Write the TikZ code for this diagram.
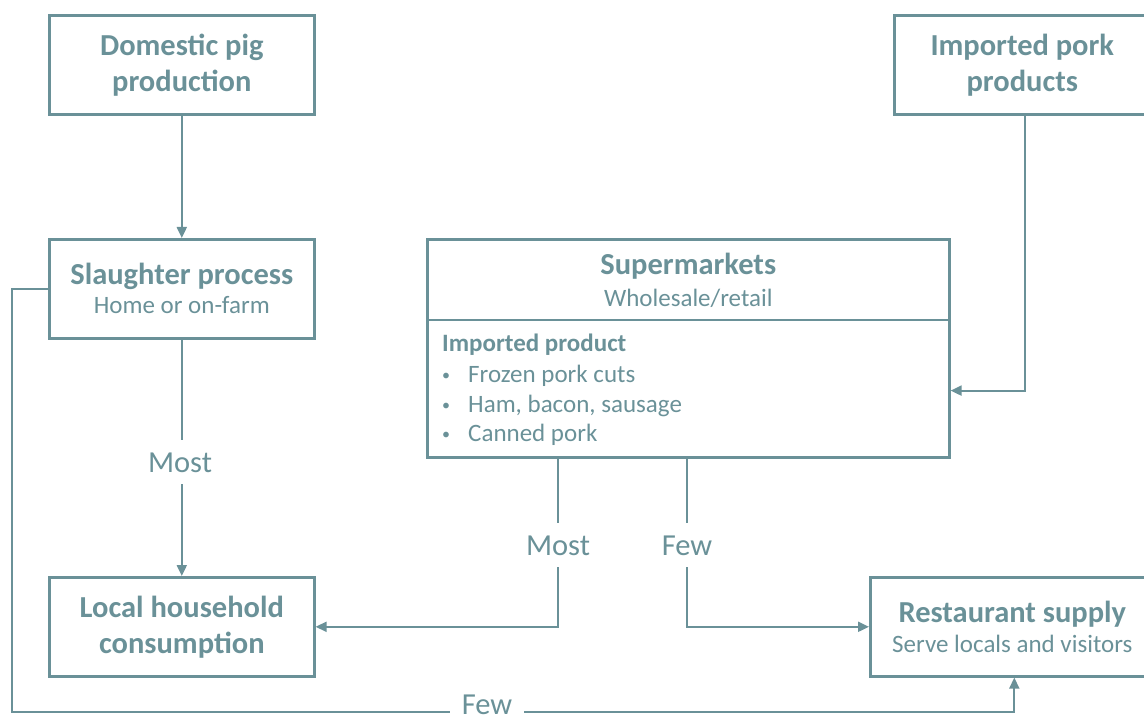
\documentclass[tikz,border=0pt]{standalone}
\usepackage{fontspec}
\setmainfont{Carlito}
\usetikzlibrary{arrows.meta,calc}
\definecolor{teal}{RGB}{106,145,152}
\begin{document}
\begin{tikzpicture}[x=1pt,y=-1pt,
  box/.style={draw=teal,line width=2.6pt,minimum width=#1,inner sep=0pt,anchor=north west},
  conn/.style={draw=teal,line width=2pt,-{Triangle[length=11pt,width=10pt]}},
  plain/.style={draw=teal,line width=2pt},
  ttl/.style={text=teal,font=\fontsize{30.5}{36}\selectfont\bfseries,anchor=base,inner sep=0pt},
  sub/.style={text=teal,font=\fontsize{25}{30}\selectfont,anchor=base,inner sep=0pt},
  itm/.style={text=teal,font=\fontsize{25}{30}\selectfont,anchor=base west,inner sep=0pt},
  dot/.style={text=teal,font=\fontsize{16}{20}\selectfont,anchor=base west,inner sep=0pt},
  lbl/.style={text=teal,font=\fontsize{30.5}{36}\selectfont,anchor=base,fill=white,inner xsep=5pt,inner ysep=12pt}]
\useasboundingbox (0,0) rectangle (1144,722);
\clip (0,0) rectangle (1144,722);
% boxes
\node[box=265pt,minimum height=99pt] (dom) at (48,14) {};
\node[box=262pt,minimum height=99pt] (imp) at (893,14) {};
\node[box=265pt,minimum height=99pt] (sl) at (48,238) {};
\node[box=522pt,minimum height=218pt] (sup) at (426,238) {};
\node[box=265pt,minimum height=99pt] (loc) at (48,576) {};
\node[box=288pt,minimum height=99pt] (res) at (869,576) {};
\draw[plain,line width=2.6pt] ($(sup.north west)+(0,82)$) coordinate (dl) -- (dl -| sup.east);
% texts
\node[ttl] (t1) at ($(dom.north)+(0,42)$) {Domestic pig};
\node[ttl] (t2) at ($(dom.north)+(0,78)$) {production};
\node[ttl] (t3) at ($(imp.north)+(-3,42)$) {Imported pork};
\node[ttl] (t4) at ($(imp.north)+(-3,78)$) {products};
\node[ttl] (t5) at ($(sl.north)+(0,47)$) {Slaughter process};
\node[sub] (t6) at ($(sl.north)+(0,75)$) {Home or on-farm};
\node[ttl] (t7) at ($(sup.north)+(0,37)$) {Supermarkets};
\node[sub] (t8) at ($(sup.north)+(0,68)$) {Wholesale/retail};
\node[itm,font=\fontsize{25}{30}\selectfont\bfseries] (t9) at (442,352) {Imported product};
\node[dot] (b1) at (442,380) {•};
\node[itm] (i1) at (468,382) {Frozen pork cuts};
\node[dot] (b2) at (442,410) {•};
\node[itm] (i2) at (468,412) {Ham, bacon, sausage};
\node[dot] (b3) at (442,439) {•};
\node[itm] (i3) at (468,441) {Canned pork};
\node[ttl] (t10) at ($(loc.north)+(0,41)$) {Local household};
\node[ttl] (t11) at ($(loc.north)+(0,77)$) {consumption};
\node[ttl] (t12) at ($(res.north)+(-2,46)$) {Restaurant supply};
\node[sub] (t13) at ($(res.north)+(-2,76)$) {Serve locals and visitors};
% connectors
\draw[conn] (dom.south) -- (sl.north);
\draw[conn] (sl.south) -- (loc.north);
\node[lbl] (m1) at (180,472) {Most};
\draw[conn] (imp.south) |- ($(sup.south east)+(0,-68)$);
\draw[conn] ($(sup.south west)+(132,0)$) coordinate (s1) |- (loc.east);
\node[lbl] (m2) at (558,555) {Most};
\draw[conn] ($(sup.south west)+(261,0)$) coordinate (s2) |- (res.west);
\node[lbl] (f1) at (687,555) {Few};
\draw[conn] (sl.west) -- ++(-36,0) coordinate (c1) -- (c1 |- 0,712) coordinate (c2) -| (res.south);
\node[lbl,inner xsep=12pt,inner ysep=0pt] (f2) at (487,714) {Few};
\end{tikzpicture}
\end{document}
